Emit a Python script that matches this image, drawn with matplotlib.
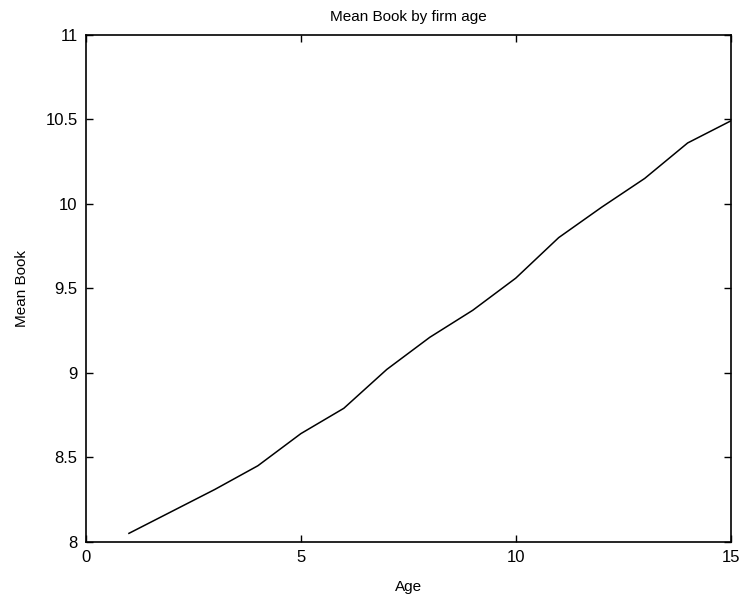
import matplotlib
matplotlib.use("Agg")
import matplotlib.pyplot as plt

plt.rcParams['font.family'] = ['Liberation Sans', 'DejaVu Sans']

# mean book value for each firm age
age = [1, 2, 3, 4, 5, 6, 7, 8, 9, 10, 11, 12, 13, 14, 15]
mean_book = [8.05, 8.18, 8.31, 8.45, 8.64, 8.79, 9.02, 9.21, 9.37, 9.56,
             9.80, 9.98, 10.15, 10.36, 10.49]

xticks = [0, 5, 10, 15]
yticks = [8, 8.5, 9, 9.5, 10, 10.5, 11]
yticklabels = ['8', '8.5', '9', '9.5', '10', '10.5', '11']

fig = plt.figure(figsize=(7.41, 6.0), dpi=100)
ax = fig.add_axes([0.116, 0.097, 0.870, 0.845])

ax.plot(age, mean_book, color='black', linewidth=1.1)

ax.set_xlim(0, 15)
ax.set_ylim(8, 11)
ax.set_xticks(xticks)
ax.set_yticks(yticks)
ax.set_yticklabels(yticklabels)
ax.tick_params(direction='in', top=True, right=True, length=5, width=1,
               labelsize=12, pad=6)
for s in ax.spines.values():
    s.set_linewidth(1.2)

ax.set_title('Mean Book by firm age', fontsize=11, pad=10)
ax.set_xlabel('Age', fontsize=11, labelpad=11)
ax.set_ylabel('Mean Book', fontsize=11, labelpad=12)

plt.savefig('out.png', dpi=100)
